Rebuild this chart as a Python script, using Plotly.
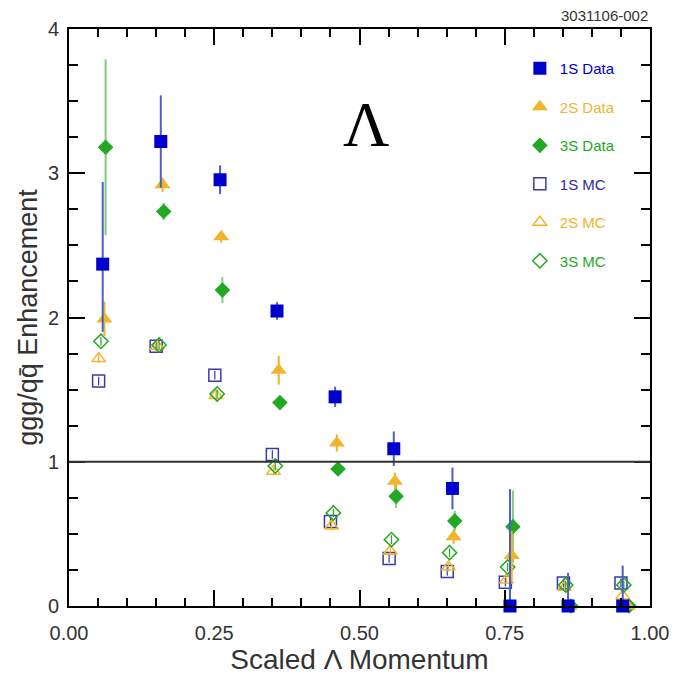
import plotly.graph_objects as go

# ---- data ----
x_1s_data = [0.058, 0.158, 0.260, 0.358, 0.458, 0.559, 0.660, 0.759, 0.859, 0.953]
y_1s_data = [2.37, 3.22, 2.955, 2.045, 1.45, 1.09, 0.815, 0.0, 0.0, 0.0]
e_1s_data_p = [0.57, 0.32, 0.10, 0.06, 0.07, 0.12, 0.145, 0.81, 0.23, 0.28]
e_1s_data_m = [0.47, 0.32, 0.10, 0.06, 0.07, 0.12, 0.145, 0.0, 0.0, 0.0]

x_2s_data = [0.061, 0.161, 0.262, 0.361, 0.461, 0.561, 0.662, 0.762, 0.862, 0.962]
y_2s_data = [1.99, 2.92, 2.56, 1.635, 1.13, 0.865, 0.48, 0.35, 0.0, 0.0]
e_2s_data_p = [0.12, 0.05, 0.04, 0.10, 0.06, 0.06, 0.05, 0.17, 0.03, 0.03]
e_2s_data_m = [0.12, 0.05, 0.04, 0.10, 0.06, 0.06, 0.05, 0.17, 0.0, 0.0]

x_3s_data = [0.063, 0.163, 0.264, 0.363, 0.463, 0.563, 0.664, 0.764, 0.864, 0.964]
y_3s_data = [3.18, 2.735, 2.19, 1.41, 0.95, 0.76, 0.59, 0.55, 0.0, 0.0]
e_3s_data_p = [0.61, 0.06, 0.09, 0.04, 0.04, 0.08, 0.07, 0.25, 0.02, 0.02]
e_3s_data_m = [0.61, 0.06, 0.09, 0.04, 0.04, 0.08, 0.07, 0.25, 0.0, 0.0]

x_1s_mc = [0.051, 0.150, 0.251, 0.350, 0.450, 0.551, 0.651, 0.751, 0.851, 0.950]
y_1s_mc = [1.56, 1.80, 1.60, 1.05, 0.585, 0.33, 0.24, 0.165, 0.16, 0.16]
e_1s_mc = [0.03, 0.03, 0.03, 0.03, 0.03, 0.03, 0.03, 0.03, 0.03, 0.03]

x_2s_mc = [0.051, 0.152, 0.253, 0.352, 0.452, 0.553, 0.653, 0.753, 0.853, 0.953]
y_2s_mc = [1.715, 1.80, 1.46, 0.935, 0.555, 0.38, 0.27, 0.18, 0.13, 0.07]
e_2s_mc = [0.03, 0.03, 0.03, 0.03, 0.03, 0.03, 0.03, 0.03, 0.03, 0.03]

x_3s_mc = [0.055, 0.155, 0.255, 0.355, 0.455, 0.555, 0.655, 0.755, 0.855, 0.955]
y_3s_mc = [1.835, 1.81, 1.47, 0.97, 0.645, 0.46, 0.37, 0.27, 0.145, 0.145]
e_3s_mc = [0.03, 0.03, 0.03, 0.03, 0.03, 0.03, 0.03, 0.03, 0.03, 0.03]

x_ticks = [0.0, 0.25, 0.5, 0.75, 1.0]
x_tick_labels = ["0.00", "0.25", "0.50", "0.75", "1.00"]
y_ticks = [0, 1, 2, 3, 4]
y_tick_labels = ["0", "1", "2", "3", "4"]

BLUE = "#0000CC"
BLUE_ERR = "#4d5fc0"
GOLD = "#F2B52A"
GREEN = "#22A822"
GREEN_ERR = "#80cc80"
FONT = "Liberation Sans, Arial, sans-serif"

fig = go.Figure()

def leg(name, color):
    return '<span style="color:%s">%s</span>' % (color, name)

# MC traces (drawn first)
fig.add_trace(go.Scatter(
    x=x_1s_mc, y=y_1s_mc, mode="markers", name=leg("1S MC", "#2b2b9a"),
    legendgroup="d", legendrank=4,
    marker=dict(symbol="square-open", size=12, color="#3a3aa8", line=dict(width=1.5)),
    error_y=dict(type="data", array=e_1s_mc, color="#3a3aa8", thickness=1.2, width=0)))
fig.add_trace(go.Scatter(
    x=x_2s_mc, y=y_2s_mc, mode="markers", name=leg("2S MC", GOLD),
    legendgroup="e", legendrank=5,
    marker=dict(symbol="triangle-up-open", size=12, color=GOLD, line=dict(width=1.5)),
    error_y=dict(type="data", array=e_2s_mc, color=GOLD, thickness=1.2, width=0)))
fig.add_trace(go.Scatter(
    x=x_3s_mc, y=y_3s_mc, mode="markers", name=leg("3S MC", GREEN),
    legendgroup="f", legendrank=6,
    marker=dict(symbol="diamond-open", size=11, color=GREEN, line=dict(width=1.5)),
    error_y=dict(type="data", array=e_3s_mc, color=GREEN, thickness=1.2, width=0)))

# Data traces
fig.add_trace(go.Scatter(
    x=x_3s_data, y=y_3s_data, mode="markers", name=leg("3S Data", GREEN),
    legendgroup="c", legendrank=3,
    marker=dict(symbol="diamond", size=12, color=GREEN),
    error_y=dict(type="data", symmetric=False, array=e_3s_data_p, arrayminus=e_3s_data_m,
                 color=GREEN_ERR, thickness=2, width=0)))
fig.add_trace(go.Scatter(
    x=x_2s_data, y=y_2s_data, mode="markers", name=leg("2S Data", GOLD),
    legendgroup="b", legendrank=2,
    marker=dict(symbol="triangle-up", size=14, color=GOLD),
    error_y=dict(type="data", symmetric=False, array=e_2s_data_p, arrayminus=e_2s_data_m,
                 color=GOLD, thickness=2, width=0)))
fig.add_trace(go.Scatter(
    x=x_1s_data, y=y_1s_data, mode="markers", name=leg("1S Data", BLUE),
    legendgroup="a", legendrank=1,
    marker=dict(symbol="square", size=13, color=BLUE),
    error_y=dict(type="data", symmetric=False, array=e_1s_data_p, arrayminus=e_1s_data_m,
                 color=BLUE_ERR, thickness=2, width=0)))

for tr in fig.data:
    tr.cliponaxis = False

# reference line at 1
fig.add_hline(y=1, line=dict(color="#333333", width=2))

axis_common = dict(
    showline=True, linecolor="black", linewidth=2, mirror="ticks",
    ticks="inside", ticklen=16, tickwidth=1.5, tickcolor="black",
    showgrid=False, zeroline=False,
    tickfont=dict(family=FONT, size=20, color="#333333"),
)

fig.update_layout(
    width=681, height=680,
    margin=dict(l=69, r=20, t=29, b=73),
    plot_bgcolor="white", paper_bgcolor="white",
    font=dict(family=FONT, color="#333333"),
    xaxis=dict(range=[0, 1], tickvals=x_ticks, ticktext=x_tick_labels,
               ticklabelstandoff=8,
               minor=dict(dtick=0.05, ticks="inside", ticklen=8, tickwidth=1.5, tickcolor="black"),
               title=dict(text="Scaled Λ Momentum", font=dict(size=28, color="#333333"), standoff=4),
               **axis_common),
    yaxis=dict(range=[0, 4], tickvals=y_ticks, ticktext=y_tick_labels,
               ticklabelstandoff=4,
               minor=dict(dtick=0.25, ticks="inside", ticklen=9, tickwidth=1.5, tickcolor="black"),
               title=dict(text="ggg/qq\u0304 Enhancement", font=dict(size=27, color="#333333"), standoff=2),
               **axis_common),
    legend=dict(x=0.776, y=0.96, xanchor="left", yanchor="top",
                bgcolor="rgba(0,0,0,0)", borderwidth=0,
                font=dict(family=FONT, size=15),
                tracegroupgap=16, itemsizing="trace"),
    showlegend=True,
)

fig.add_annotation(text="Λ", xref="paper", yref="paper", x=0.512, y=0.9,
                   showarrow=False, font=dict(family="Liberation Serif, Times New Roman, serif",
                                              size=64, color="black"))
fig.add_annotation(text="3031106-002", xref="paper", yref="paper", x=1.0, y=1.0,
                   xanchor="right", yanchor="bottom", yshift=3, showarrow=False,
                   font=dict(family=FONT, size=15, color="#333333"))

fig.write_html("out.html")
